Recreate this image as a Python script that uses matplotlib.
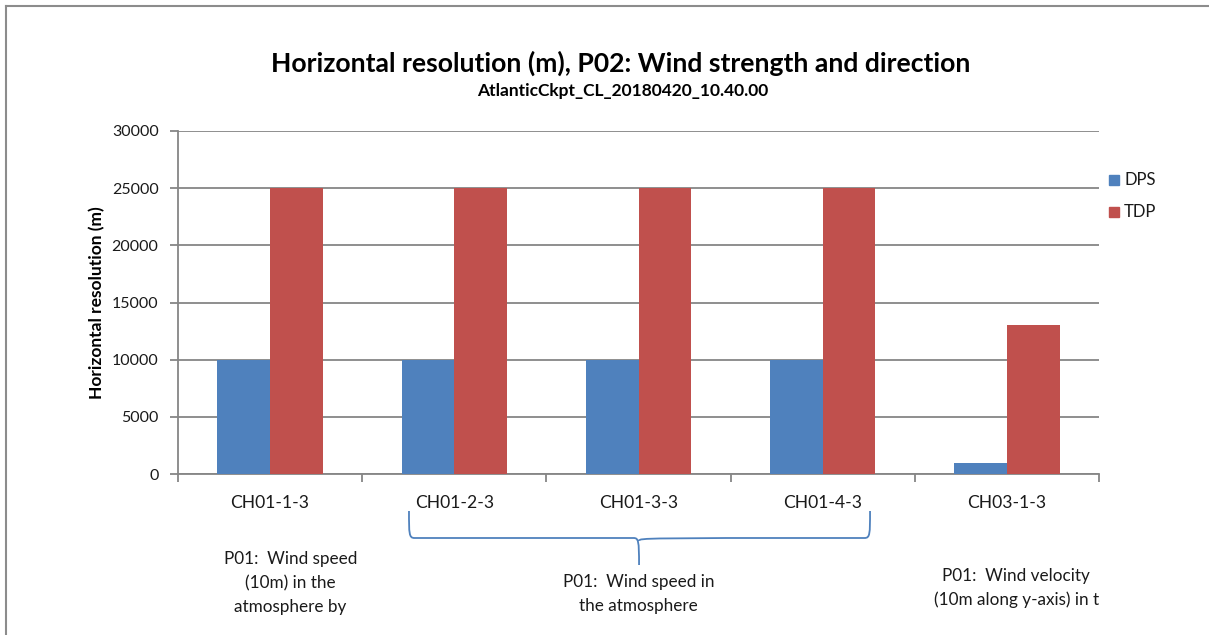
import matplotlib
matplotlib.use("Agg")
import matplotlib.pyplot as plt
import matplotlib.transforms as mtransforms
from matplotlib.path import Path
from matplotlib.patches import PathPatch, Rectangle
import numpy as np

categories = ["CH01-1-3", "CH01-2-3", "CH01-3-3", "CH01-4-3", "CH03-1-3"]
dps = [10000, 10000, 10000, 10000, 1000]
tdp = [25000, 25000, 25000, 25000, 13000]
series_names = ["DPS", "TDP"]
y_ticks = [0, 5000, 10000, 15000, 20000, 25000, 30000]

title = "Horizontal resolution (m), P02: Wind strength and direction"
subtitle = "AtlanticCkpt_CL_20180420_10.40.00"
y_label = "Horizontal resolution (m)"
notes = [
    (0.11, "P01:  Wind speed\n(10m) in the\natmosphere by", 583),
    (2.0, "P01:  Wind speed in\nthe atmosphere", 594),
    (4.05, "P01:  Wind velocity\n(10m along y-axis) in t", 588),
]

BLUE = "#4F81BD"
RED = "#C0504D"
GRID = "#868686"
TEXT = "#1a1a1a"
FONT = "Lato"

W, H = 1209, 635
fig = plt.figure(figsize=(W / 100, H / 100), dpi=100)
fig.patch.set_facecolor("white")

def fx(px):
    return px / W

def fy(py):
    return 1 - py / H

# outer frame (top and left edges visible)
fig.add_artist(plt.Line2D([fx(6), fx(W)], [fy(6), fy(6)], transform=fig.transFigure,
                          color="#8c8c8c", lw=1.5))
fig.add_artist(plt.Line2D([fx(6), fx(6)], [fy(6), 0], transform=fig.transFigure,
                          color="#8c8c8c", lw=1.5))

ax = fig.add_axes([fx(178), fy(474), fx(1099) - fx(178), fy(131) - fy(474)])
x = np.arange(len(categories))
bw = 1 / 3.5
ax.bar(x - bw / 2, dps, width=bw, color=BLUE, zorder=3, label=series_names[0])
ax.bar(x + bw / 2, tdp, width=bw, color=RED, zorder=3, label=series_names[1])

ax.set_xlim(-0.5, len(categories) - 0.5)
ax.set_ylim(0, 30000)
ax.set_yticks(y_ticks)
ax.set_yticklabels([str(v) for v in y_ticks], fontsize=11.5, family=FONT, color=TEXT)
ax.yaxis.grid(True, color=GRID, lw=1.3, zorder=0)
ax.set_axisbelow(True)

ax.set_xticks(np.arange(-0.5, len(categories)), labels=[""] * (len(categories) + 1))
ax.set_xticks(x, labels=categories, minor=True)
ax.tick_params(axis="x", which="minor", length=0, pad=15, labelsize=12.6, labelcolor=TEXT)
ax.tick_params(axis="x", which="major", length=6, color=GRID, width=1.3, direction="out")
ax.tick_params(axis="y", length=6, color=GRID, width=1.3, direction="out", pad=8)
for lab in ax.get_xticklabels(minor=True):
    lab.set_family(FONT)

for s in ["top", "right"]:
    ax.spines[s].set_visible(False)
for s in ["left", "bottom"]:
    ax.spines[s].set_color(GRID)
    ax.spines[s].set_linewidth(1.3)

fig.text(fx(621), fy(63), title, ha="center", va="center", fontsize=19.1,
         fontweight="bold", family=FONT, color="black")
fig.text(fx(623), fy(91), subtitle, ha="center", va="center", fontsize=12.5,
         fontweight="bold", family=FONT, color="black")
fig.text(fx(97), fy(303), y_label, ha="center", va="center", rotation=90, fontsize=12.5,
         fontweight="bold", family=FONT, color="black")

# legend
for i, (name, col) in enumerate(zip(series_names, [BLUE, RED])):
    yc = 180 + 32 * i
    fig.add_artist(Rectangle((fx(1109), fy(yc + 5)), fx(10), fy(yc - 5) - fy(yc + 5),
                             transform=fig.transFigure, color=col))
    fig.text(fx(1124), fy(yc), name, ha="left", va="center", fontsize=12,
             family=FONT, color=TEXT)

# group notes beneath the categories
trans = mtransforms.blended_transform_factory(ax.transData, fig.transFigure)
for xc, txt, ypx in notes:
    fig.text(xc, fy(ypx), txt, transform=trans, ha="center", va="center",
             fontsize=12.3, family=FONT, color=TEXT, linespacing=1.62)

# curly brace spanning the middle three categories
bt = mtransforms.blended_transform_factory(ax.transData, ax.transAxes)
def ay(py):
    return (474 - py) / 343.0
x0, x1, xm = 0.754, 3.257, 2.003
ytop, ymid, ytip = ay(511), ay(538), ay(565)
dx = 0.03
dy = ytop - ymid
verts = [
    (x0, ytop), (x0, ymid + dy * 0.15), (x0, ymid), (x0 + dx, ymid),
    (xm - dx, ymid),
    (xm - dx * 0.1, ymid), (xm, ymid - dy * 0.1), (xm, ytip),
    (xm, ymid - dy * 0.1), (xm + dx * 0.1, ymid), (xm + dx, ymid),
    (x1 - dx, ymid),
    (x1, ymid), (x1, ymid + dy * 0.15), (x1, ytop),
]
codes = [Path.MOVETO, Path.CURVE4, Path.CURVE4, Path.CURVE4,
         Path.LINETO,
         Path.CURVE4, Path.CURVE4, Path.CURVE4,
         Path.MOVETO, Path.CURVE4, Path.CURVE4,
         Path.LINETO,
         Path.CURVE4, Path.CURVE4, Path.CURVE4]
brace = PathPatch(Path(verts, codes), transform=bt, fill=False, edgecolor=BLUE,
                  lw=1.3, clip_on=False)
ax.add_patch(brace)

fig.savefig("out.png", dpi=100)
